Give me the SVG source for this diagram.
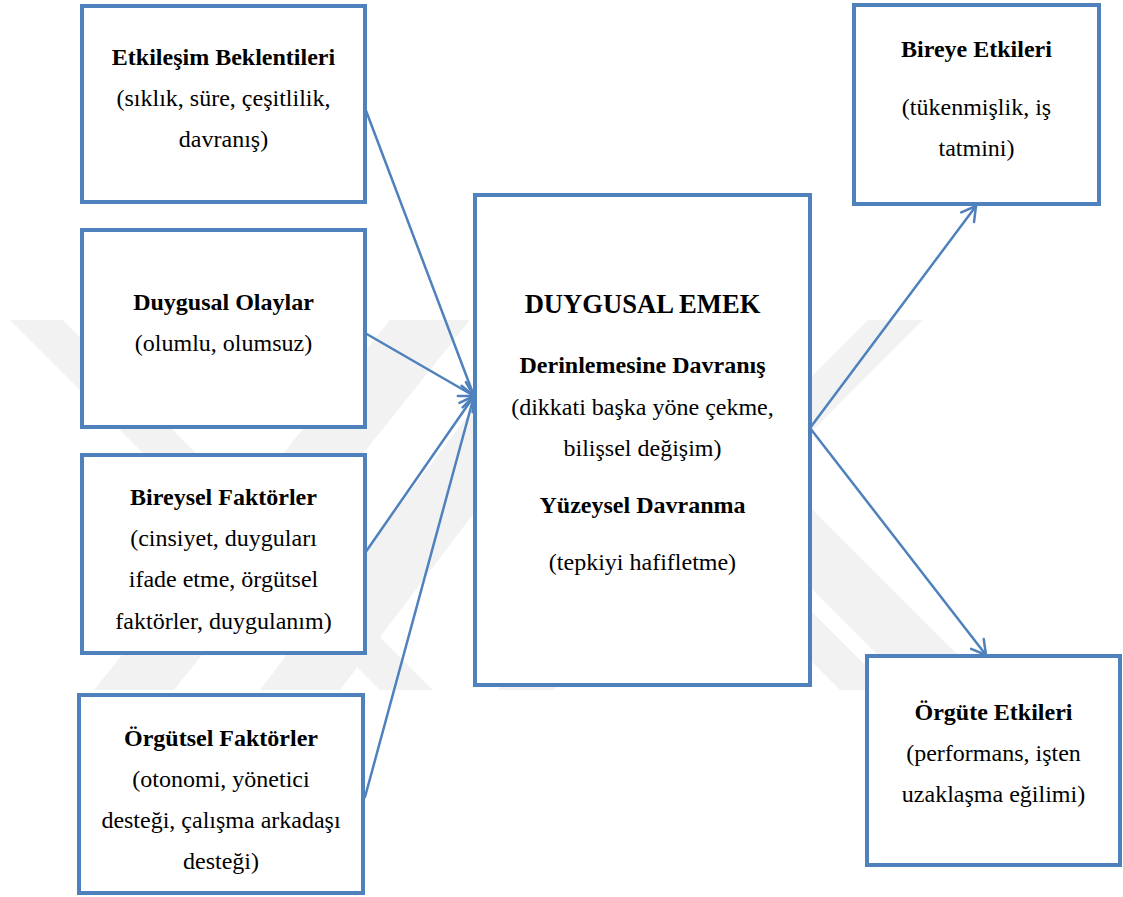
<svg xmlns="http://www.w3.org/2000/svg" width="1123" height="897" viewBox="0 0 1123 897">
  <defs>
    <style>
      .box { fill: #ffffff; stroke: #4F81BD; stroke-width: 4; stroke-linejoin: miter; }
      .link { fill: none; stroke: #4F81BD; stroke-width: 2.5; stroke-linecap: round; }
      .t { font-family: "Liberation Serif", "Times New Roman", serif; font-size: 24px; fill: #000000; text-anchor: middle; }
      .b { font-weight: bold; }
      .big { font-size: 26.6px; }
      .wm { fill: #f2f2f2; }
    </style>
    <marker id="arrow" markerUnits="userSpaceOnUse" markerWidth="20" markerHeight="20" viewBox="0 0 20 20" refX="17" refY="10" orient="auto">
      <path d="M3,2 L17,10 L3,18" fill="none" stroke="#4F81BD" stroke-width="2.5" stroke-linecap="round" stroke-linejoin="round"/>
    </marker>
  </defs>

  <rect x="0" y="0" width="1123" height="897" fill="#ffffff"/>

  <!-- faint background emblem -->
  <g id="emblem">
    <polygon class="wm" points="10,320 63,320 433,690 380,690"/>
    <polygon class="wm" points="390,320 470,320 174,690 94,690"/>
    <polygon class="wm" points="540,320 620,320 340,690 260,690"/>
    <polygon class="wm" points="868,320 923,320 553,690 498,690"/>
    <polygon class="wm" points="543,320 623,320 993,690 913,690"/>
    <polygon class="wm" points="550,400 600,400 890,690 840,690"/>
  </g>

  <!-- connectors -->
  <g id="connectors">
    <path class="link" d="M365,108 L474,396" marker-end="url(#arrow)"/>
    <path class="link" d="M365,333 L474,396" marker-end="url(#arrow)"/>
    <path class="link" d="M365,553 L474,396" marker-end="url(#arrow)"/>
    <path class="link" d="M365,797 L474,396" marker-end="url(#arrow)"/>
    <path class="link" d="M810,428 L976,206" marker-end="url(#arrow)"/>
    <path class="link" d="M810,428 L986,655" marker-end="url(#arrow)"/>
  </g>

  <g id="etkilesim-beklentileri">
    <rect class="box" x="82" y="6" width="283" height="196"/>
    <text class="t b" x="223.5" y="65">Etkileşim Beklentileri</text>
    <text class="t" x="223.5" y="106">(sıklık, süre, çeşitlilik,</text>
    <text class="t" x="223.5" y="147">davranış)</text>
  </g>

  <g id="duygusal-olaylar">
    <rect class="box" x="82" y="230" width="283" height="197"/>
    <text class="t b" x="223.5" y="310">Duygusal Olaylar</text>
    <text class="t" x="223.5" y="351">(olumlu, olumsuz)</text>
  </g>

  <g id="bireysel-faktorler">
    <rect class="box" x="82" y="455" width="283" height="198"/>
    <text class="t b" x="223.5" y="505">Bireysel Faktörler</text>
    <text class="t" x="223.5" y="546">(cinsiyet, duyguları</text>
    <text class="t" x="223.5" y="587">ifade etme, örgütsel</text>
    <text class="t" x="223.5" y="629">faktörler, duygulanım)</text>
  </g>

  <g id="orgutsel-faktorler">
    <rect class="box" x="79" y="695" width="284" height="198"/>
    <text class="t b" x="221" y="746">Örgütsel Faktörler</text>
    <text class="t" x="221" y="787">(otonomi, yönetici</text>
    <text class="t" x="221" y="828">desteği, çalışma arkadaşı</text>
    <text class="t" x="221" y="869">desteği)</text>
  </g>

  <g id="duygusal-emek">
    <rect class="box" x="475" y="195" width="335" height="490"/>
    <text class="t b big" x="642.5" y="313">DUYGUSAL EMEK</text>
    <text class="t b" x="642.5" y="373">Derinlemesine Davranış</text>
    <text class="t" x="642.5" y="415">(dikkati başka yöne çekme,</text>
    <text class="t" x="642.5" y="456">bilişsel değişim)</text>
    <text class="t b" x="642.5" y="513">Yüzeysel Davranma</text>
    <text class="t" x="642.5" y="570">(tepkiyi hafifletme)</text>
  </g>

  <g id="bireye-etkileri">
    <rect class="box" x="854" y="5" width="245" height="199"/>
    <text class="t b" x="976.5" y="57">Bireye Etkileri</text>
    <text class="t" x="976.5" y="115">(tükenmişlik, iş</text>
    <text class="t" x="976.5" y="156">tatmini)</text>
  </g>

  <g id="orgute-etkileri">
    <rect class="box" x="867" y="656" width="253" height="209"/>
    <text class="t b" x="993.5" y="720">Örgüte Etkileri</text>
    <text class="t" x="993.5" y="761">(performans, işten</text>
    <text class="t" x="993.5" y="802">uzaklaşma eğilimi)</text>
  </g>
</svg>
